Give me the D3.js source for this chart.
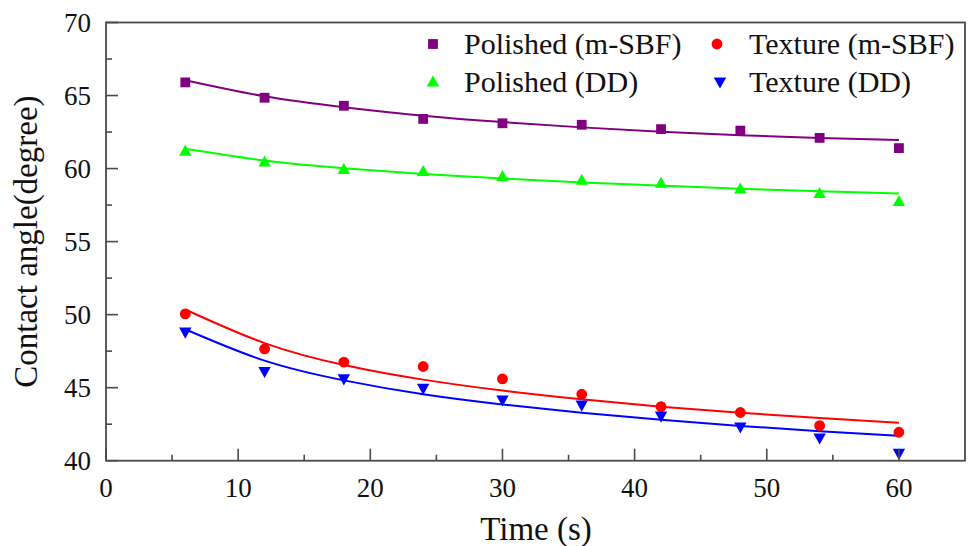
<!DOCTYPE html>
<html>
<head>
<meta charset="utf-8">
<script src="https://cdn.jsdelivr.net/npm/d3@7/dist/d3.min.js"></script>
<style>
  html, body { margin: 0; padding: 0; background: #fff; }
  svg { display: block; font-family: "Liberation Serif", "Times New Roman", serif; }
</style>
</head>
<body>
<svg id="chart" width="972" height="546"></svg>
<script>
// Measurement times (s)
const times = [6, 12, 18, 24, 30, 36, 42, 48, 54, 60];

// Measured contact angles (degree)
const polishedSBF = [65.9, 64.85, 64.3, 63.4, 63.1, 63.0, 62.7, 62.6, 62.1, 61.4];
const textureSBF  = [50.05, 47.65, 46.75, 46.45, 45.6, 44.55, 43.7, 43.3, 42.4, 41.95];
const polishedDD  = [61.2, 60.45, 59.95, 59.8, 59.45, 59.2, 59.0, 58.6, 58.3, 57.75];
const textureDD   = [48.8, 46.1, 45.6, 44.95, 44.15, 43.8, 43.05, 42.3, 41.55, 40.5];

// Fitted decay curves evaluated at the measurement times
const fitPolishedSBF = [66.05, 64.95, 64.2, 63.62, 63.18, 62.82, 62.52, 62.28, 62.1, 61.95];
const fitTextureSBF  = [50.35, 48.05, 46.55, 45.55, 44.8, 44.2, 43.7, 43.28, 42.92, 42.6];
const fitPolishedDD  = [61.35, 60.55, 60.02, 59.63, 59.32, 59.05, 58.83, 58.62, 58.45, 58.3];
const fitTextureDD   = [49.0, 46.85, 45.5, 44.55, 43.85, 43.28, 42.8, 42.38, 42.02, 41.7];

// Axis ticks
const xTicks = [0, 10, 20, 30, 40, 50, 60];
const xMinorTicks = [5, 15, 25, 35, 45, 55];
const yTicks = [40, 45, 50, 55, 60, 65, 70];
const yMinorTicks = [42.5, 47.5, 52.5, 57.5, 62.5, 67.5];

const series = [
  { name: "Polished (m-SBF)", values: polishedSBF, fit: fitPolishedSBF, color: "#800080", marker: "square" },
  { name: "Texture (m-SBF)",  values: textureSBF,  fit: fitTextureSBF,  color: "#ff0000", marker: "circle" },
  { name: "Polished (DD)",    values: polishedDD,  fit: fitPolishedDD,  color: "#00ff00", marker: "up" },
  { name: "Texture (DD)",     values: textureDD,   fit: fitTextureDD,   color: "#0000ff", marker: "down" }
];

const svg = d3.select("#chart");
const plotLeft = 106, plotRight = 965, plotTop = 22.5, plotBottom = 460.7;

const x = d3.scaleLinear().domain([0, 65]).range([plotLeft, plotRight]);
const y = d3.scaleLinear().domain([40, 70]).range([plotBottom, plotTop]);

const axisColor = "#4a4a4a";

// Marker shapes
function markerPath(type) {
  switch (type) {
    case "square": return "M-4.9,-4.9H4.9V4.9H-4.9Z";
    case "circle": return d3.symbol(d3.symbolCircle, 92)();
    case "up":     return "M0,-6.5L6.2,4.6L-6.2,4.6Z";
    case "down":   return "M0,6.5L6.2,-4.6L-6.2,-4.6Z";
  }
}

// Fitted curves
const line = d3.line()
  .x((d, i) => x(times[i]))
  .y(d => y(d))
  .curve(d3.curveNatural);

const plot = svg.append("g");

series.forEach(s => {
  plot.append("path")
    .attr("d", line(s.fit))
    .attr("fill", "none")
    .attr("stroke", s.color)
    .attr("stroke-width", 2);
});

series.forEach(s => {
  plot.append("g")
    .selectAll("path")
    .data(s.values)
    .join("path")
    .attr("transform", (d, i) => `translate(${x(times[i])},${y(d)})`)
    .attr("d", markerPath(s.marker))
    .attr("fill", s.color);
});

// Frame
svg.append("rect")
  .attr("x", plotLeft).attr("y", plotTop)
  .attr("width", plotRight - plotLeft).attr("height", plotBottom - plotTop)
  .attr("fill", "none")
  .attr("stroke", axisColor)
  .attr("stroke-width", 1.8);

// Bottom axis (ticks point inward)
const xAxis = svg.append("g").attr("transform", `translate(0,${plotBottom})`);
xAxis.selectAll("line.major").data(xTicks).join("line").attr("class", "major")
  .attr("x1", d => x(d)).attr("x2", d => x(d))
  .attr("y1", 0).attr("y2", -12)
  .attr("stroke", axisColor).attr("stroke-width", 1.6);
xAxis.selectAll("line.minor").data(xMinorTicks).join("line").attr("class", "minor")
  .attr("x1", d => x(d)).attr("x2", d => x(d))
  .attr("y1", 0).attr("y2", -6)
  .attr("stroke", axisColor).attr("stroke-width", 1.6);
xAxis.selectAll("text").data(xTicks).join("text")
  .attr("x", d => x(d)).attr("y", 36)
  .attr("text-anchor", "middle")
  .attr("font-size", 27)
  .attr("fill", "#111")
  .text(d => d);

// Left axis
const yAxis = svg.append("g").attr("transform", `translate(${plotLeft},0)`);
yAxis.selectAll("line.major").data(yTicks).join("line").attr("class", "major")
  .attr("x1", 0).attr("x2", 12)
  .attr("y1", d => y(d)).attr("y2", d => y(d))
  .attr("stroke", axisColor).attr("stroke-width", 1.6);
yAxis.selectAll("line.minor").data(yMinorTicks).join("line").attr("class", "minor")
  .attr("x1", 0).attr("x2", 6)
  .attr("y1", d => y(d)).attr("y2", d => y(d))
  .attr("stroke", axisColor).attr("stroke-width", 1.6);
yAxis.selectAll("text").data(yTicks).join("text")
  .attr("x", -15).attr("y", d => y(d) + 9)
  .attr("text-anchor", "end")
  .attr("font-size", 27)
  .attr("fill", "#111")
  .text(d => d);

// Axis titles
svg.append("text")
  .attr("x", 536).attr("y", 540)
  .attr("text-anchor", "middle")
  .attr("font-size", 33)
  .attr("fill", "#111")
  .text("Time (s)");

svg.append("text")
  .attr("transform", `translate(37,${(plotTop + plotBottom) / 2}) rotate(-90)`)
  .attr("text-anchor", "middle")
  .attr("font-size", 33)
  .attr("fill", "#111")
  .text("Contact angle(degree)");

// Legend
const legendPos = [
  { mx: 433, tx: 464, ty: 54 },
  { mx: 717, tx: 749, ty: 54 },
  { mx: 433, tx: 464, ty: 92 },
  { mx: 720, tx: 749, ty: 92 }
];
const legend = svg.append("g");
series.forEach((s, i) => {
  const p = legendPos[i];
  legend.append("path")
    .attr("transform", `translate(${p.mx},${p.ty - 10})`)
    .attr("d", markerPath(s.marker))
    .attr("fill", s.color);
  legend.append("text")
    .attr("x", p.tx).attr("y", p.ty)
    .attr("font-size", 30)
    .attr("fill", "#111")
    .text(s.name);
});
</script>
</body>
</html>
